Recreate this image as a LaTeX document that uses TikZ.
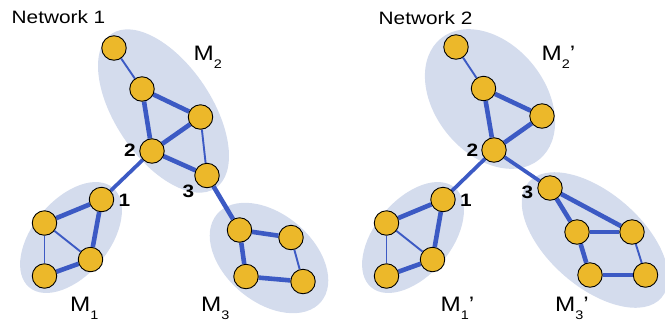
\documentclass[tikz,border=0pt]{standalone}
\usepackage{fontspec}
\setmainfont{Liberation Sans}
\newfontfamily\wide[FakeStretch=1.16]{Liberation Sans}
\definecolor{edgeblue}{RGB}{60,90,196}
\definecolor{nodegold}{RGB}{236,184,42}
\definecolor{ellfill}{RGB}{212,220,237}
\pgfdeclarelayer{bg}
\pgfdeclarelayer{edges}
\pgfsetlayers{bg,edges,main}
\tikzset{
 vtx/.style={circle, minimum size=24.5bp, inner sep=0pt, fill=nodegold, draw=black, line width=0.9bp},
 thk/.style={draw=edgeblue, line width=4.6bp},
 med/.style={draw=edgeblue, line width=3.7bp},
 thn/.style={draw=edgeblue, line width=1.9bp},
 grp/.style={fill=ellfill},
 title/.style={anchor=base west, inner sep=0pt, font=\wide\fontsize{18}{19}\selectfont},
 mlab/.style={anchor=base west, inner sep=0pt, font=\wide\fontsize{21}{22}\selectfont},
 num/.style={inner sep=0pt, font=\wide\bfseries\fontsize{18}{19}\selectfont},
}
\newcommand{\sbx}[1]{\raisebox{-8bp}{\fontsize{12.5}{13}\selectfont #1}}
\begin{document}
\begin{tikzpicture}[x=1bp, y=-1bp]
\useasboundingbox (0,0) rectangle (665,329);
% ---- Network 1 nodes
\node[vtx] (t1) at (114,48) {};
\node[vtx] (a1) at (142,89) {};
\node[vtx] (b1) at (200.5,117) {};
\node[vtx] (c2) at (152,151) {};
\node[vtx] (c3) at (207,175.5) {};
\node[vtx] (c1) at (101.5,199.5) {};
\node[vtx] (p1) at (44.5,223) {};
\node[vtx] (p2) at (90.5,259.5) {};
\node[vtx] (p3) at (44.5,276) {};
\node[vtx] (q1) at (239.5,230) {};
\node[vtx] (q2) at (291,237.5) {};
\node[vtx] (q3) at (246,276.5) {};
\node[vtx] (q4) at (303,281.5) {};
% ---- Network 2 nodes
\node[vtx] (T1) at (456,47) {};
\node[vtx] (A1) at (483.5,88.5) {};
\node[vtx] (B1) at (542,116) {};
\node[vtx] (C2) at (494,150) {};
\node[vtx] (C3) at (550,188) {};
\node[vtx] (C1) at (443,199.5) {};
\node[vtx] (P1) at (386.5,223) {};
\node[vtx] (P2) at (432.5,259.5) {};
\node[vtx] (P3) at (386.5,276) {};
\node[vtx] (Q1) at (577,232) {};
\node[vtx] (Q2) at (632,232) {};
\node[vtx] (Q3) at (590,275) {};
\node[vtx] (Q4) at (645.5,275) {};
% ---- groups
\begin{pgfonlayer}{bg}
\fill[grp, shift={(71,237.5)}, rotate=50] (0,0) ellipse [x radius=65bp, y radius=38bp];
\fill[grp, shift={(163.5,111)}, rotate=-56] (0,0) ellipse [x radius=93bp, y radius=48bp];
\fill[grp, shift={(269,258)}, rotate=-40] (0,0) ellipse [x radius=68bp, y radius=44bp];
\fill[grp, shift={(413,237.5)}, rotate=50] (0,0) ellipse [x radius=65bp, y radius=38bp];
\fill[grp, shift={(490,99)}, rotate=-51] (0,0) ellipse [x radius=78bp, y radius=55bp];
\fill[grp, shift={(595,240)}, rotate=-41] (0,0) ellipse [x radius=88bp, y radius=47bp];
\end{pgfonlayer}
% ---- edges
\begin{pgfonlayer}{edges}
\draw[thn] (t1) -- (a1);
\draw[thk] (a1) -- (b1);
\draw[thk] (a1) -- (c2);
\draw[thk] (b1) -- (c2);
\draw[thn] (b1) -- (c3);
\draw[thk] (c2) -- (c3);
\draw[med] (c2) -- (c1);
\draw[thk] (c3) -- (q1);
\draw[thk] (c1) -- (p1);
\draw[thk] (c1) -- (p2);
\draw[thn] (p1) -- (p2);
\draw[thn] (p1) -- (p3);
\draw[thk] (p3) -- (p2);
\draw[thk] (q1) -- (q2);
\draw[thk] (q1) -- (q3);
\draw[thn] (q2) -- (q4);
\draw[thk] (q3) -- (q4);
\draw[thn] (T1) -- (A1);
\draw[thk] (A1) -- (B1);
\draw[thk] (A1) -- (C2);
\draw[thk] (B1) -- (C2);
\draw[med] (C2) -- (C1);
\draw[med] (C2) -- (C3);
\draw[thk] (C1) -- (P1);
\draw[thk] (C1) -- (P2);
\draw[thn] (P1) -- (P2);
\draw[thn] (P1) -- (P3);
\draw[thk] (P3) -- (P2);
\draw[thk] (C3) -- (Q1);
\draw[thk] (C3) -- (Q2);
\draw[thk] (Q1) -- (Q2);
\draw[thk] (Q1) -- (Q3);
\draw[thn] (Q2) -- (Q4);
\draw[thk] (Q3) -- (Q4);
\end{pgfonlayer}
% ---- labels
\node[title] (n1t) at (11.5,23.5) {Network 1};
\node[title] (n2t) at (378.5,24) {Network 2};
\node[mlab] (lm1) at (70,311.7) {M\sbx{1}};
\node[mlab] (lm2) at (193.5,60) {M\sbx{2}};
\node[mlab] (lm3) at (201,311.7) {M\sbx{3}};
\node[mlab] (lM1) at (440.5,311.7) {M\sbx{1}’};
\node[mlab] (lM2) at (541.5,60) {M\sbx{2}’};
\node[mlab] (lM3) at (555,311.7) {M\sbx{3}’};
\node[num] (k1) at (124.5,200) {1};
\node[num] (k2) at (130,150.5) {2};
\node[num] (k3) at (188.5,191.5) {3};
\node[num] (K1) at (466,200) {1};
\node[num] (K2) at (472.5,150) {2};
\node[num] (K3) at (527.5,192.5) {3};
\end{tikzpicture}
\end{document}
